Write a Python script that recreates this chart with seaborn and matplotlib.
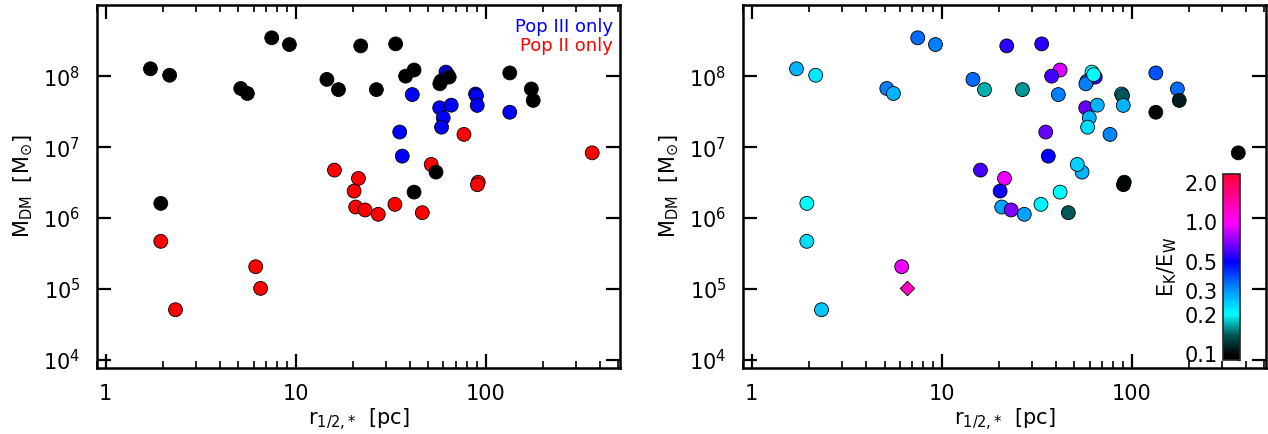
import numpy as np
import pandas as pd
import matplotlib
matplotlib.use('Agg')
import matplotlib.pyplot as plt
import matplotlib.ticker as mticker
from matplotlib.colors import LinearSegmentedColormap, LogNorm
from matplotlib.cm import ScalarMappable
import seaborn as sns

# ── Data ───────────────────────────────────────────────────────────
r_half = [1.72, 2.17, 7.48, 9.27, 5.14, 5.57, 14.6, 16.8, 22.0, 33.6,
          26.6, 42.0, 37.9, 64.3, 58.2, 57.4, 134, 174, 178, 1.95,
          42.0, 54.8,
          61.8, 63.1, 41.1, 88.5, 89.5, 90.3, 57.3, 65.9, 59.8, 58.6,
          134, 35.3, 36.4,
          76.9, 364, 51.7, 91.4, 90.5, 16.0, 21.4, 20.3, 20.7, 23.2,
          27.2, 33.3, 46.4, 1.95, 6.16, 6.54, 2.33]
m_dm = [1.27e8, 1.03e8, 3.47e8, 2.79e8, 6.7e7, 5.7e7, 9.0e7, 6.46e7, 2.67e8, 2.85e8,
        6.46e7, 1.22e8, 1.0e8, 9.7e7, 8.5e7, 7.8e7, 1.11e8, 6.6e7, 4.55e7, 1.61e6,
        2.32e6, 4.44e6,
        1.14e8, 1.05e8, 5.5e7, 5.6e7, 5.3e7, 3.87e7, 3.58e7, 3.9e7, 2.59e7, 1.91e7,
        3.1e7, 1.63e7, 7.46e6,
        1.51e7, 8.3e6, 5.7e6, 3.2e6, 2.95e6, 4.74e6, 3.62e6, 2.4e6, 1.43e6, 1.3e6,
        1.13e6, 1.56e6, 1.19e6, 4.7e5, 2.06e5, 1.02e5, 5.1e4]
pop = ['both'] * 22 + ['III'] * 13 + ['II'] * 17
ek_ew = [0.27, 0.22, 0.35, 0.33, 0.33, 0.27, 0.35, 0.17, 0.55, 0.55,
         0.16, 0.9, 0.6, 0.55, 0.35, 0.33, 0.38, 0.35, 0.11, 0.2,
         0.2, 0.27,
         0.2, 0.2, 0.33, 0.3, 0.14, 0.27, 0.65, 0.27, 0.27, 0.23,
         0.1, 0.65, 0.5,
         0.32, 0.1, 0.24, 0.1, 0.1, 0.6, 0.95, 0.52, 0.29, 0.7,
         0.29, 0.21, 0.14, 0.23, 0.95, 1.3, 0.25]
shape = ['o'] * 50 + ['D', 'o']

cbar_ticks = [0.1, 0.2, 0.3, 0.5, 1.0, 2.0]

df = pd.DataFrame({'r': r_half, 'm': m_dm, 'pop': pop, 'ek': ek_ew, 'shape': shape})

# ── Style ──────────────────────────────────────────────────────────
sns.set_style('ticks')
plt.rcParams['font.family'] = ['DejaVu Sans']
plt.rcParams['mathtext.default'] = 'regular'
plt.rcParams['axes.linewidth'] = 1.8
plt.rcParams['text.color'] = 'black'
plt.rcParams['axes.labelcolor'] = 'black'
plt.rcParams['xtick.color'] = 'black'
plt.rcParams['ytick.color'] = 'black'

# colour table anchored at E_K/E_W values, log-spaced
norm = LogNorm(vmin=0.09, vmax=2.35)
stops = [(0.09, (0, 0, 0)), (0.1, (0, 0.02, 0.02)), (0.14, (0, 0.35, 0.35)),
         (0.2, (0, 1, 1)), (0.3, (0, 0.6, 1)), (0.5, (0, 0, 1)),
         (0.7, (0.5, 0, 1)), (1.0, (1, 0, 1)), (2.0, (1, 0, 0.35)),
         (2.35, (1, 0, 0.2))]
cmap = LinearSegmentedColormap.from_list(
    'ekew', [(float(norm(v)), c) for v, c in stops])

fig = plt.figure(figsize=(12.68, 4.34), dpi=100)
ax1 = fig.add_axes([0.0765, 0.153, 0.4125, 0.835])
ax2 = fig.add_axes([0.586, 0.153, 0.4125, 0.835])
cax = fig.add_axes([0.9645, 0.17, 0.0134, 0.43])

# left panel: population type
order = {'II': 0, 'III': 1, 'both': 2}
left = df.assign(o=df['pop'].map(order)).sort_values('o', kind='stable')
sns.scatterplot(data=left, x='r', y='m', hue='pop',
                palette={'both': 'black', 'III': 'blue', 'II': 'red'},
                s=100, edgecolor='black', linewidth=0.6, legend=False, ax=ax1)
ax1.text(0.987, 0.939, 'Pop III only', color='blue', ha='right', va='center',
         transform=ax1.transAxes, fontsize=13)
ax1.text(0.987, 0.887, 'Pop II only', color='red', ha='right', va='center',
         transform=ax1.transAxes, fontsize=13)

# right panel: coloured by E_K/E_W
circ = df[df['shape'] == 'o']
diam = df[df['shape'] == 'D']
sns.scatterplot(data=circ, x='r', y='m', hue='ek', hue_norm=norm, palette=cmap,
                s=100, edgecolor='black', linewidth=0.6, legend=False, ax=ax2)
sns.scatterplot(data=diam, x='r', y='m', hue='ek', hue_norm=norm, palette=cmap,
                marker='D', s=55, edgecolor='black', linewidth=0.6, legend=False, ax=ax2)

for ax in (ax1, ax2):
    ax.set_xscale('log')
    ax.set_yscale('log')
    ax.set_xlim(0.9, 510)
    ax.set_ylim(7.8e3, 1e9)
    ax.set_xticks([1, 10, 100])
    ax.xaxis.set_major_formatter(mticker.FuncFormatter(lambda v, _: f'{v:g}'))
    ax.set_yticks([1e4, 1e5, 1e6, 1e7, 1e8])
    ax.yaxis.set_major_formatter(
        mticker.FuncFormatter(lambda v, _: f'$10^{{{int(round(np.log10(v)))}}}$'))
    ax.yaxis.set_minor_locator(mticker.NullLocator())
    ax.tick_params(which='major', direction='in', top=True, right=True,
                   length=10, width=1.6, labelsize=15, color='black', labelcolor='black')
    ax.tick_params(axis='x', which='major', pad=12)
    ax.tick_params(axis='y', which='major', pad=12)
    ax.tick_params(which='minor', direction='in', top=True, right=True,
                   length=5, width=1.2, color='black')
    ax.set_xlabel(r'r$_{1/2,{*}}$  [pc]', fontsize=15, labelpad=2)
    ax.set_ylabel(r'M$_{DM}$  [M$_{\odot}$]', fontsize=15, labelpad=6)
    for sp in ax.spines.values():
        sp.set_color('black')
        sp.set_linewidth(1.8)

# colorbar
cb = fig.colorbar(ScalarMappable(norm=norm, cmap=cmap), cax=cax)
cb.set_ticks(cbar_ticks)
cb.ax.yaxis.set_major_formatter(mticker.FuncFormatter(lambda v, _: f'{v:.1f}'))
cb.ax.yaxis.set_minor_formatter(mticker.NullFormatter())
cb.ax.yaxis.set_ticks_position('left')
cb.ax.yaxis.set_label_position('left')
cb.ax.tick_params(which='major', direction='in', length=4, width=1, labelsize=15,
                  left=True, right=True, color='black', labelcolor='black')
cb.ax.tick_params(which='minor', direction='in', length=2, width=0.8, left=False, right=True)
cb.set_label(r'E$_{K}$/E$_{W}$', fontsize=15, labelpad=4)
cb.outline.set_linewidth(1.2)

fig.savefig('out.png', dpi=100)
